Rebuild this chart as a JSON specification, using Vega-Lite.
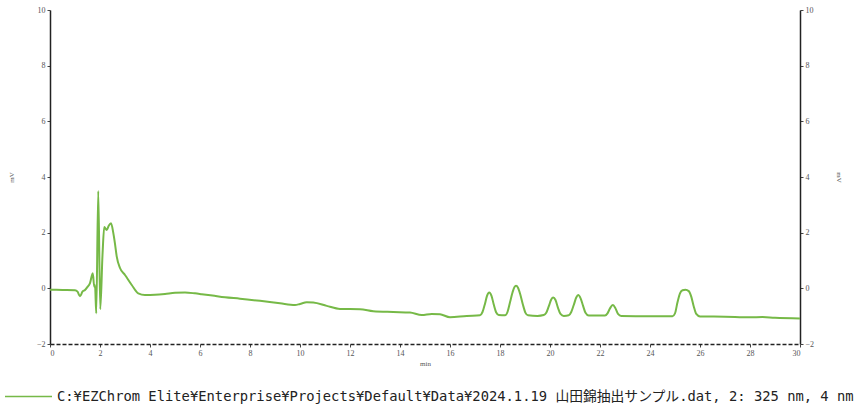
{
  "$schema": "https://vega.github.io/schema/vega-lite/v6.json",
  "autosize": {"type": "none"},
  "width": 750,
  "height": 334,
  "padding": {"left": 50, "top": 10, "right": 68, "bottom": 63},
  "background": "white",
  "config": {
    "view": {"stroke": null},
    "axis": {
      "labelFont": "Liberation Serif",
      "labelFontSize": 8,
      "labelColor": "#555555",
      "titleFont": "Liberation Serif",
      "titleFontSize": 7,
      "titleFontWeight": "normal",
      "titleColor": "#555555",
      "grid": false,
      "domainColor": "#222222",
      "domainWidth": 1.5,
      "tickColor": "#444444",
      "tickSize": 3,
      "labelPadding": 2
    }
  },
  "datasets": {
    "trace": [
      {"t": 0.0, "v": -0.05},
      {"t": 0.5, "v": -0.06},
      {"t": 1.0, "v": -0.07},
      {"t": 1.1, "v": -0.12},
      {"t": 1.2, "v": -0.28},
      {"t": 1.3, "v": -0.12},
      {"t": 1.4, "v": -0.06},
      {"t": 1.5, "v": 0.05},
      {"t": 1.6, "v": 0.19},
      {"t": 1.71, "v": 0.54},
      {"t": 1.77, "v": 0.06},
      {"t": 1.8, "v": 0.12},
      {"t": 1.85, "v": -0.9},
      {"t": 1.93, "v": 3.5},
      {"t": 2.01, "v": -0.75},
      {"t": 2.1, "v": 1.2},
      {"t": 2.17, "v": 2.2},
      {"t": 2.27, "v": 2.1},
      {"t": 2.35, "v": 2.25},
      {"t": 2.44, "v": 2.34},
      {"t": 2.53, "v": 2.0},
      {"t": 2.6, "v": 1.6},
      {"t": 2.67, "v": 1.14},
      {"t": 2.8, "v": 0.73},
      {"t": 3.0, "v": 0.48},
      {"t": 3.27, "v": 0.12},
      {"t": 3.53, "v": -0.18},
      {"t": 3.8, "v": -0.24},
      {"t": 4.2, "v": -0.23},
      {"t": 4.6, "v": -0.2},
      {"t": 5.0, "v": -0.16},
      {"t": 5.4, "v": -0.15},
      {"t": 5.8, "v": -0.18},
      {"t": 6.07, "v": -0.21},
      {"t": 6.5, "v": -0.26},
      {"t": 7.0, "v": -0.32},
      {"t": 7.6, "v": -0.37},
      {"t": 8.4, "v": -0.45},
      {"t": 9.2, "v": -0.54},
      {"t": 9.8, "v": -0.6},
      {"t": 10.0, "v": -0.56},
      {"t": 10.27, "v": -0.5},
      {"t": 10.53, "v": -0.51},
      {"t": 11.07, "v": -0.63},
      {"t": 11.6, "v": -0.74},
      {"t": 12.4, "v": -0.75},
      {"t": 12.93, "v": -0.82},
      {"t": 13.73, "v": -0.85},
      {"t": 14.4, "v": -0.87},
      {"t": 14.87, "v": -0.96},
      {"t": 15.27, "v": -0.92},
      {"t": 15.6, "v": -0.93},
      {"t": 16.0, "v": -1.04},
      {"t": 16.67, "v": -0.99},
      {"t": 17.2, "v": -0.97},
      {"t": 17.3, "v": -0.85},
      {"t": 17.4, "v": -0.55},
      {"t": 17.48, "v": -0.27},
      {"t": 17.57, "v": -0.15},
      {"t": 17.66, "v": -0.27},
      {"t": 17.75, "v": -0.58},
      {"t": 17.85, "v": -0.87},
      {"t": 17.95, "v": -0.96},
      {"t": 18.2, "v": -0.97},
      {"t": 18.3, "v": -0.85},
      {"t": 18.4, "v": -0.5},
      {"t": 18.5, "v": -0.15},
      {"t": 18.58, "v": 0.05},
      {"t": 18.64, "v": 0.09},
      {"t": 18.72, "v": 0.02},
      {"t": 18.82, "v": -0.25},
      {"t": 18.92, "v": -0.6},
      {"t": 19.02, "v": -0.88},
      {"t": 19.12, "v": -0.97},
      {"t": 19.5, "v": -0.99},
      {"t": 19.75, "v": -0.96},
      {"t": 19.85, "v": -0.88},
      {"t": 19.95, "v": -0.65},
      {"t": 20.05, "v": -0.4},
      {"t": 20.13, "v": -0.33},
      {"t": 20.22, "v": -0.42},
      {"t": 20.32, "v": -0.7},
      {"t": 20.42, "v": -0.92},
      {"t": 20.55, "v": -0.99},
      {"t": 20.75, "v": -0.97},
      {"t": 20.85, "v": -0.85},
      {"t": 20.95, "v": -0.6},
      {"t": 21.05, "v": -0.33},
      {"t": 21.13, "v": -0.24},
      {"t": 21.22, "v": -0.35},
      {"t": 21.32, "v": -0.62},
      {"t": 21.42, "v": -0.88},
      {"t": 21.55, "v": -0.98},
      {"t": 22.2, "v": -0.98},
      {"t": 22.3, "v": -0.9},
      {"t": 22.4, "v": -0.72},
      {"t": 22.51, "v": -0.6},
      {"t": 22.62, "v": -0.72},
      {"t": 22.72, "v": -0.92},
      {"t": 22.85, "v": -0.99},
      {"t": 24.0, "v": -1.0},
      {"t": 24.9, "v": -1.0},
      {"t": 25.0, "v": -0.9},
      {"t": 25.1, "v": -0.5},
      {"t": 25.2, "v": -0.18},
      {"t": 25.3, "v": -0.07},
      {"t": 25.42, "v": -0.05},
      {"t": 25.55, "v": -0.1},
      {"t": 25.65, "v": -0.3},
      {"t": 25.75, "v": -0.65},
      {"t": 25.85, "v": -0.92},
      {"t": 26.0, "v": -1.01},
      {"t": 27.0, "v": -1.02},
      {"t": 28.0, "v": -1.04},
      {"t": 28.5, "v": -1.03},
      {"t": 29.0, "v": -1.06},
      {"t": 30.0, "v": -1.08}
    ]
  },
  "layer": [
    {
      "data": {"name": "trace"},
      "transform": [
        {"calculate": "'C:¥EZChrom Elite¥Enterprise¥Projects¥Default¥Data¥2024.1.19 山田錦抽出サンプル.dat, 2: 325 nm, 4 nm'", "as": "series"}
      ],
      "mark": {"type": "line", "strokeWidth": 2, "interpolate": "monotone"},
      "encoding": {
        "x": {
          "field": "t",
          "type": "quantitative",
          "scale": {"domain": [0, 30], "nice": false, "zero": false},
          "axis": {
            "orient": "bottom",
            "title": "min",
            "values": [0, 2, 4, 6, 8, 10, 12, 14, 16, 18, 20, 22, 24, 26, 28, 30],
            "domainDash": [4, 2],
            "domainWidth": 1.5,
            "tickSize": 3,
            "titlePadding": 2
          }
        },
        "y": {
          "field": "v",
          "type": "quantitative",
          "scale": {"domain": [-2, 10], "nice": false, "zero": false},
          "axis": {
            "orient": "left",
            "title": "mV",
            "values": [-2, 0, 2, 4, 6, 8, 10],
            "titlePadding": 22
          }
        },
        "color": {
          "field": "series",
          "type": "nominal",
          "scale": {"range": ["#76b947"]},
          "legend": {
            "title": null,
            "orient": "none",
            "legendX": -46,
            "legendY": 362,
            "symbolType": "stroke",
            "symbolSize": 2209,
            "symbolStrokeWidth": 1.5,
            "labelFont": "DejaVu Sans Mono, Noto Sans CJK JP",
            "labelFontSize": 13.8,
            "labelColor": "#222222",
            "labelLimit": 1000,
            "labelOffset": 4
          }
        }
      }
    },
    {
      "mark": {"type": "rule", "color": "#333333", "strokeWidth": 1.5},
      "encoding": {
        "y": {
          "datum": 10,
          "type": "quantitative",
          "axis": {
            "orient": "right",
            "title": "mV",
            "values": [-2, 0, 2, 4, 6, 8, 10],
            "titlePadding": 22
          }
        }
      }
    }
  ],
  "resolve": {"axis": {"y": "independent"}}
}
